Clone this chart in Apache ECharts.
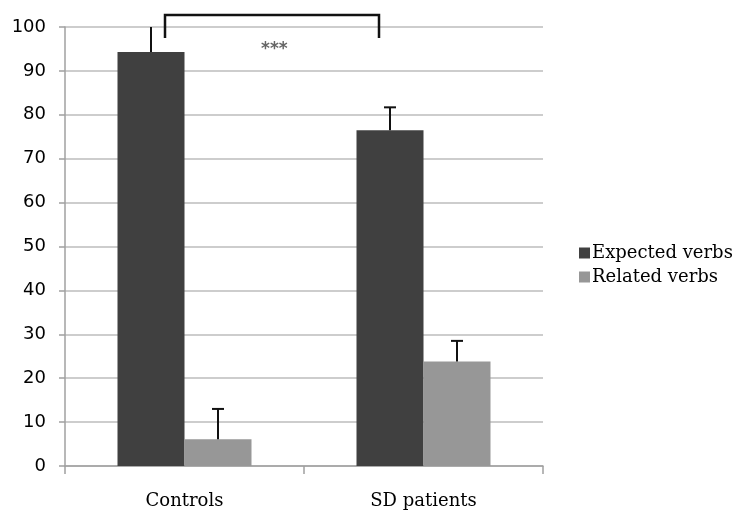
<!DOCTYPE html>
<html>
<head>
<meta charset="utf-8">
<script src="https://cdn.jsdelivr.net/npm/echarts@6/dist/echarts.min.js"></script>
<style>html,body{margin:0;padding:0;background:#fff;}#c{width:736px;height:510px;}</style>
</head>
<body>
<div id="c"></div>
<script>
var categories = ['Controls', 'SD patients'];
var expectedVerbs = [94.3, 76.5];
var expectedErrTop = [101, 81.7];
var relatedVerbs = [6.1, 23.8];
var relatedErrTop = [13, 28.5];
var yTicks = [0, 10, 20, 30, 40, 50, 60, 70, 80, 90, 100];

var chart = echarts.init(document.getElementById('c'), null, {renderer: 'canvas'});

function errorSeries(name, errTop, seriesIndexOffset) {
  return {
    type: 'custom',
    name: name + ' error',
    clip: true,
    z: 5,
    silent: true,
    data: categories.map(function (c, i) { return [i, errTop[i], (seriesIndexOffset === 0 ? expectedVerbs : relatedVerbs)[i]]; }),
    renderItem: function (params, api) {
      var idx = api.value(0);
      var base = api.coord([idx, api.value(2)]);
      var top = api.coord([idx, api.value(1)]);
      var bw = 67;
      var cx = base[0] + (seriesIndexOffset === 0 ? -bw / 2 : bw / 2);
      return {
        type: 'group',
        children: [
          {type: 'line', shape: {x1: cx, y1: base[1], x2: cx, y2: top[1]}, style: {stroke: '#111', lineWidth: 2}},
          {type: 'line', shape: {x1: cx - 6, y1: top[1], x2: cx + 6, y2: top[1]}, style: {stroke: '#111', lineWidth: 2}}
        ]
      };
    }
  };
}

chart.setOption({
  animation: false,
  backgroundColor: '#fff',
  grid: {left: 65, right: 193, top: 27, bottom: 43, containLabel: false},
  legend: {
    orient: 'vertical',
    left: 574,
    top: 239,
    itemWidth: 11,
    itemHeight: 11,
    itemGap: 6,
    icon: 'rect',
    data: ['Expected verbs', 'Related verbs'],
    textStyle: {fontFamily: 'DejaVu Serif', fontSize: 18, color: '#000', padding: [0, 0, 0, -3]}
  },
  xAxis: {
    type: 'category',
    data: categories,
    axisLine: {lineStyle: {color: '#a0a0a0', width: 1.5}},
    axisTick: {show: true, length: 8, lineStyle: {color: '#a0a0a0', width: 1.5}},
    axisLabel: {fontFamily: 'DejaVu Serif', fontSize: 18, color: '#000', margin: 26}
  },
  yAxis: {
    type: 'value',
    min: 0, max: 100, interval: 10,
    axisLine: {show: true, lineStyle: {color: '#a0a0a0', width: 1.5}},
    axisTick: {show: true, length: 6, lineStyle: {color: '#a0a0a0', width: 1.5}},
    splitLine: {lineStyle: {color: '#bdbdbd', width: 1.5}},
    axisLabel: {fontFamily: 'DejaVu Sans', fontSize: 18, color: '#000', margin: 19,
      formatter: function (v) { return yTicks.indexOf(v) >= 0 ? String(v) : ''; }}
  },
  series: [
    {name: 'Expected verbs', type: 'bar', data: expectedVerbs, barWidth: 67, barGap: '0%', itemStyle: {color: '#404040'}},
    {name: 'Related verbs', type: 'bar', data: relatedVerbs, barWidth: 67, barGap: '0%', itemStyle: {color: '#979797'}},
    errorSeries('Expected verbs', expectedErrTop, 0),
    errorSeries('Related verbs', relatedErrTop, 1)
  ],
  graphic: [
    {type: 'polyline', shape: {points: [[165, 38], [165, 15], [379, 15], [379, 38]]}, style: {stroke: '#111', lineWidth: 2.5, fill: null}, z: 10},
    {type: 'text', left: 261, top: 41, style: {text: '***', fontFamily: 'DejaVu Sans', fontSize: 17, fontWeight: 'bold', fill: '#666'}, z: 10}
  ]
});
</script>
</body>
</html>
